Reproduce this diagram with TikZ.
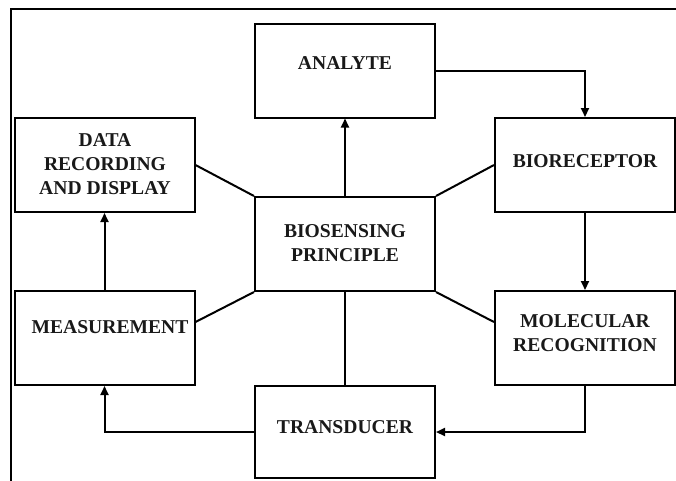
\documentclass[tikz,border=0pt]{standalone}
\usepackage{fontspec}
\setmainfont{Liberation Serif}
\usetikzlibrary{arrows.meta}
\begin{document}
\begin{tikzpicture}[x=1pt,y=-1pt,
  box/.style={draw=black,line width=2pt,rectangle,minimum width=180pt,minimum height=94pt,inner sep=0pt},
  lbl/.style={inner sep=0pt,align=center,font=\fontsize{19.6}{24}\selectfont\bfseries,text=black!90},
  con/.style={line width=2pt},
  arr/.style={line width=2pt,-{Triangle[length=9pt,width=8pt]}}]
\useasboundingbox (0,0) rectangle (676,480);
\clip (0,0) rectangle (676,480);
\draw[line width=2.5pt] (11,9) rectangle (700,500);
% boxes
\node[box] (ana) at (345,70.5) {};
\node[box] (data) at (104.5,165) {};
\node[box] (bp) at (345,244) {};
\node[box] (bio) at (585,165) {};
\node[box] (meas) at (104.5,338) {};
\node[box,minimum height=92pt] (tr) at (345,432) {};
\node[box] (mol) at (585,338) {};
% labels
\node[lbl] (anat) at (345,63) {ANALYTE};
\node[lbl] (datat) at (105,164) {DATA\\RECORDING\\AND DISPLAY};
\node[lbl] (bpt) at (345,243) {BIOSENSING\\PRINCIPLE};
\node[lbl] (biot) at (585,161) {BIORECEPTOR};
\node[lbl] (meast) at (110,327) {MEASUREMENT};
\node[lbl] (trt) at (345,427) {TRANSDUCER};
\node[lbl] (molt) at (585,333) {MOLECULAR\\RECOGNITION};
% arrows
\draw[arr] (ana.east) -| (bio.north);
\draw[arr] (bp.north) -- (ana.south);
\draw[arr] (bio.south) -- (mol.north);
\draw[arr] (mol.south) |- (tr.east);
\draw[arr] (tr.west) -| (meas.south);
\draw[arr] (meas.north) -- (data.south);
% plain connectors
\draw[con] (data.east) -- (bp.north west);
\draw[con] (bp.north east) -- (bio.west);
\draw[con] (bp.south west) -- ([yshift=16pt]meas.east);
\draw[con] (bp.south east) -- ([yshift=16pt]mol.west);
\draw[con] (bp.south) -- (tr.north);
\end{tikzpicture}
\end{document}
